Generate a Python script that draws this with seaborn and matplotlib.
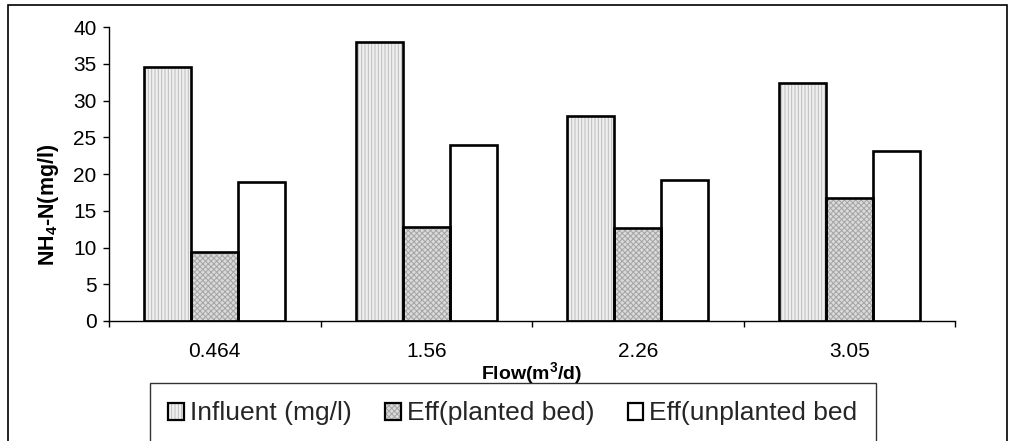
import matplotlib
matplotlib.use("Agg")
import matplotlib.pyplot as plt
from matplotlib.patches import Rectangle, Patch
from matplotlib.legend_handler import HandlerTuple
import pandas as pd
import seaborn as sns

# NH4-N concentrations at four flow rates
flows = ["0.464", "1.56", "2.26", "3.05"]
series = ["Influent (mg/l)", "Eff(planted bed)", "Eff(unplanted bed"]
influent = [34.6, 38.0, 27.9, 32.4]
planted = [9.4, 12.8, 12.6, 16.7]
unplanted = [18.9, 24.0, 19.2, 23.1]

sns.set_theme(style="white")
plt.rcParams["font.family"] = ["Liberation Sans", "DejaVu Sans"]
plt.rcParams["mathtext.fontset"] = "custom"
plt.rcParams["mathtext.rm"] = "Liberation Sans"
plt.rcParams["mathtext.bf"] = "Liberation Sans:bold"
plt.rcParams["hatch.linewidth"] = 0.7

df = pd.DataFrame({
    "Flow": flows * 3,
    "value": influent + planted + unplanted,
    "series": [s for s in series for _ in flows],
})

fills = ["#efefef", "#dadada", "#ffffff"]
hatch_colors = ["#bdbdbd", "#a4a4a4", "#ffffff"]
hatches = ["|||||", "xxxxxx", None]

fig = plt.figure(figsize=(10.10, 4.41), dpi=100)
ax = fig.add_axes([109 / 1010, 1 - 321 / 441, 846 / 1010, 294 / 441])

sns.barplot(data=df, x="Flow", y="value", hue="series", hue_order=series,
            order=flows, palette=fills, saturation=1, width=0.667,
            linewidth=0, legend=False, ax=ax)

# textured fill underneath, solid black outline on top
for i, cont in enumerate(ax.containers):
    for bar in cont:
        bar.set_edgecolor(hatch_colors[i])
        bar.set_linewidth(0)
        if hatches[i]:
            bar.set_hatch(hatches[i])
        ax.add_patch(Rectangle(bar.get_xy(), bar.get_width(), bar.get_height(),
                               fill=False, edgecolor="black", linewidth=1.9,
                               zorder=3))

ax.set_ylim(0, 40)
ax.set_xlim(-0.5, 3.5)
ax.set_yticks(range(0, 41, 5))
ax.set_xticks([-0.5, 0.5, 1.5, 2.5, 3.5])
ax.set_xticklabels([])
ax.set_xticks(range(len(flows)), minor=True)
ax.set_xticklabels(flows, minor=True)
ax.tick_params(axis="y", which="major", direction="out", length=4, width=1,
               color="black", labelsize=15, pad=5, left=True)
ax.tick_params(axis="x", which="major", direction="out", length=4.5, width=1,
               color="black", bottom=True)
ax.tick_params(axis="x", which="minor", length=0, labelsize=15, pad=15)
for lab in ax.get_yticklabels() + ax.get_xticklabels(minor=True):
    lab.set_color("black")

for side in ["top", "right"]:
    ax.spines[side].set_visible(False)
for side in ["left", "bottom"]:
    ax.spines[side].set_color("black")
    ax.spines[side].set_linewidth(1)

ax.set_ylabel(r"NH$_\mathbf{4}$-N(mg/l)", fontsize=15.5, fontweight="bold",
              color="black", va="center")
ax.yaxis.set_label_coords(-0.072, 0.395)
ax.set_xlabel(r"Flow(m$^\mathbf{3}$/d)", fontsize=14, fontweight="bold",
              color="black", va="center")
ax.xaxis.set_label_coords(0.5, -0.18)

handles = []
for i in range(3):
    fill = Patch(facecolor=fills[i], edgecolor=hatch_colors[i], linewidth=0,
                 hatch=hatches[i])
    outline = Patch(facecolor="none", edgecolor="black", linewidth=1.6)
    handles.append((fill, outline))

leg = fig.legend(handles=handles, labels=series, ncol=3,
                 loc="upper left", bbox_to_anchor=(150 / 1010, 1 - 383 / 441),
                 bbox_transform=fig.transFigure, fontsize=19, frameon=True,
                 fancybox=False, edgecolor="black", borderpad=0.7,
                 handlelength=0.6, handleheight=0.6, handletextpad=0.23,
                 columnspacing=1.25, borderaxespad=0,
                 handler_map={tuple: HandlerTuple(ndivide=1)})
leg.get_frame().set_linewidth(1)

# outer chart frame
fig.patches.append(Rectangle((8 / 1010, -0.05), 999 / 1010, 1.05 - 5 / 441,
                             transform=fig.transFigure, fill=False,
                             edgecolor="black", linewidth=1.2))

fig.savefig("out.png", dpi=100)
